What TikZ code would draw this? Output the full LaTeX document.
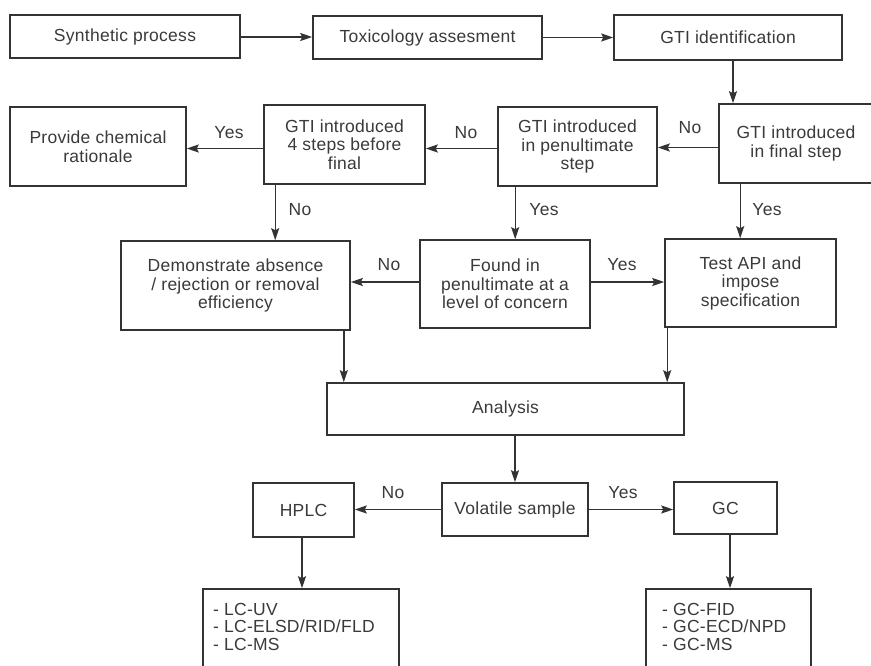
\documentclass[tikz,border=0pt]{standalone}
\usepackage{fontspec}
\setmainfont{Liberation Sans}[LetterSpace=1.5]
\usetikzlibrary{arrows.meta,calc}
\definecolor{ink}{HTML}{333333}
\definecolor{txt}{HTML}{3A3A3A}
\begin{document}
\begin{tikzpicture}[x=1pt,y=-1pt,
 box/.style={draw=ink, line width=1.6pt, inner sep=0pt, align=center, text=txt,
   font=\fontsize{17.5}{18.5}\selectfont},
 lbl/.style={inner sep=0pt, text=txt, font=\fontsize{17.5}{18.5}\selectfont},
 lst/.style={inner sep=0pt, text=txt, align=left, font=\fontsize{17.5}{17.5}\selectfont},
 arr/.style={draw=ink, line width=1.4pt, -{Stealth[length=12pt,width=8pt,inset=2pt]}},
]
\useasboundingbox[fill=white] (0,0) rectangle (871,666);

% row 1
\node[box, minimum width=230, minimum height=43] (synth) at (125,36.5) {Synthetic process};
\node[box, minimum width=229, minimum height=43] (tox) at (427.5,37.5) {Toxicology assesment};
\node[box, minimum width=228, minimum height=45] (gtiid) at (728,37.5) {GTI identification};

% row 2
\node[box, minimum width=176, minimum height=79] (prov) at (98,146.5) {Provide chemical\\rationale};
\node[box, minimum width=161, minimum height=79] (four) at (344.5,144.5) {GTI introduced\\4 steps before\\final};
\node[box, minimum width=159, minimum height=79] (pen) at (577.5,146.5) {GTI introduced\\in penultimate\\step};
\node[box, minimum width=154, minimum height=79] (fin) at (796,143.5) {GTI introduced\\in final step};

% row 3
\node[box, minimum width=229, minimum height=89] (dem) at (235.5,285.5) {Demonstrate absence\\/ rejection or removal\\efficiency};
\node[box, minimum width=170, minimum height=88] (found) at (505,284) {Found in\\penultimate at a\\level of concern};
\node[box, minimum width=171, minimum height=88] (test) at (750.5,283) {Test API and\\impose\\specification};

% analysis
\node[box, minimum width=357, minimum height=52] (analysis) at (505.5,409) {Analysis};

% row 5
\node[box, minimum width=146, minimum height=53] (vol) at (515,509.5) {Volatile sample};
\node[box, minimum width=101, minimum height=54] (hplc) at (303.5,510) {HPLC};
\node[box, minimum width=103, minimum height=52] (gc) at (725.5,508) {GC};

% bottom lists
\node[box, minimum width=196, minimum height=111] (lcbox) at (301,644.5) {};
\node[box, minimum width=165, minimum height=111] (gcbox) at (728.5,644.5) {};
\node[lst, anchor=north west] (lclist) at (213,603) {- LC-UV\\- LC-ELSD/RID/FLD\\- LC-MS};
\node[lst, anchor=north west] (gclist) at (662,603) {- GC-FID\\- GC-ECD/NPD\\- GC-MS};

% connectors row 1
\draw[arr] (synth.east |- 0,37) -- (tox.west |- 0,37);
\draw[arr] (tox.east) -- (gtiid.west |- tox.east);
\draw[arr] ([xshift=5pt]gtiid.south) -- ([xshift=5pt]gtiid.south |- fin.north);

% row 2 horizontal
\draw[arr] ([yshift=-4pt]fin.west) -- ([yshift=-4pt]fin.west -| pen.east);
\draw[arr] ([yshift=-2pt]pen.west) -- ([yshift=-2pt]pen.west -| four.east);
\draw[arr] ([yshift=-4pt]four.west) -- ([yshift=-4pt]four.west -| prov.east);

% row 2 -> row 3
\draw[arr] ([xshift=12pt]four.south west) -- ([xshift=12pt]four.south west |- dem.north);
\draw[arr] ([xshift=18pt]pen.south west) -- ([xshift=18pt]pen.south west |- found.north);
\draw[arr] ([xshift=22pt]fin.south west) -- ([xshift=22pt]fin.south west |- test.north);

% row 3 horizontal
\draw[arr] ([yshift=2pt]found.west) -- ([yshift=2pt]found.west -| dem.east);
\draw[arr] ([yshift=2pt]found.east) -- ([yshift=2pt]found.east -| test.west);

% to analysis
\draw[arr] ([xshift=-7pt]dem.south east) -- ([xshift=-7pt]dem.south east |- analysis.north);
\draw[arr] ([xshift=3pt]test.south west) -- ([xshift=3pt]test.south west |- analysis.north);
\draw[arr] (vol.north |- analysis.south) -- (vol.north);

% row 5
\draw[arr] (vol.west) -- (vol.west -| hplc.east);
\draw[arr] (vol.east) -- (vol.east -| gc.west);
\draw[arr] ([xshift=-1.5pt]hplc.south) -- ([xshift=-1.5pt]hplc.south |- lcbox.north);
\draw[arr] ([xshift=4.5pt]gc.south) -- ([xshift=4.5pt]gc.south |- gcbox.north);

% labels
\node[lbl] (l1) at (229,133) {Yes};
\node[lbl] (l2) at (466,133) {No};
\node[lbl] (l3) at (690,128) {No};
\node[lbl] (l4) at (300,210) {No};
\node[lbl] (l5) at (544,210) {Yes};
\node[lbl] (l6) at (767,210) {Yes};
\node[lbl] (l7) at (389,265) {No};
\node[lbl] (l8) at (622,265) {Yes};
\node[lbl] (l9) at (393,493) {No};
\node[lbl] (l10) at (623,493) {Yes};
\end{tikzpicture}
\end{document}
